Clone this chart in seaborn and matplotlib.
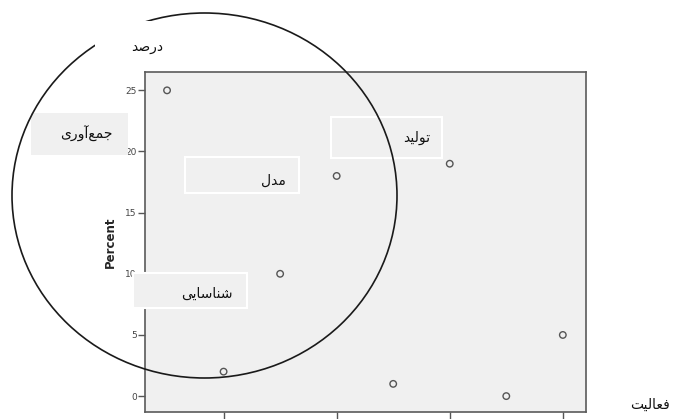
import matplotlib
matplotlib.use("Agg")
import matplotlib.pyplot as plt
from matplotlib.patches import Rectangle, Ellipse
import pandas as pd
import seaborn as sns

# data
activity = [1, 2, 3, 4, 5, 6, 7, 8]
percent = [25, 2, 10, 18, 1, 19, 0, 5]
y_ticks = [0, 5, 10, 15, 20, 25]
x_ticks = [2, 4, 6, 8]

y_label = "Percent"
x_title = "فعالیت"
top_title = "درصد"
box_labels = ["جمع‌آوری", "مدل", "تولید", "شناسایی"]

W, H = 673, 419

# matplotlib does not shape Arabic script, so join letters by hand
DUAL = {
    "ج": "\uFE9D\uFE9E\uFE9F\uFEA0", "ص": "\uFEB9\uFEBA\uFEBB\uFEBC",
    "م": "\uFEE1\uFEE2\uFEE3\uFEE4", "ع": "\uFEC9\uFECA\uFECB\uFECC",
    "ی": "\uFBFC\uFBFD\uFBFE\uFBFF", "ل": "\uFEDD\uFEDE\uFEDF\uFEE0",
    "ت": "\uFE95\uFE96\uFE97\uFE98", "ش": "\uFEB5\uFEB6\uFEB7\uFEB8",
    "ن": "\uFEE5\uFEE6\uFEE7\uFEE8", "س": "\uFEB1\uFEB2\uFEB3\uFEB4",
    "ف": "\uFED1\uFED2\uFED3\uFED4",
}
RIGHT = {
    "د": "\uFEA9\uFEAA", "ر": "\uFEAD\uFEAE", "آ": "\uFE81\uFE82",
    "و": "\uFEED\uFEEE", "ا": "\uFE8D\uFE8E",
}


def shape(word):
    out = []
    for i, ch in enumerate(word):
        prev = word[i - 1] if i > 0 else ""
        nxt = word[i + 1] if i < len(word) - 1 else ""
        if ch in DUAL:
            jp = prev in DUAL
            jn = nxt in DUAL or nxt in RIGHT
            forms = DUAL[ch]
            if jp and jn:
                out.append(forms[3])
            elif jp:
                out.append(forms[1])
            elif jn:
                out.append(forms[2])
            else:
                out.append(forms[0])
        elif ch in RIGHT:
            out.append(RIGHT[ch][1] if prev in DUAL else RIGHT[ch][0])
        elif ch == "\u200c":
            continue
        else:
            out.append(ch)
    return "".join(reversed(out))


def fx(x):
    return x / W


def fy(y):
    return 1 - y / H


df = pd.DataFrame({"activity": activity, "percent": percent})

sns.set_style("white")
plt.rcParams["font.family"] = ["DejaVu Sans"]

fig = plt.figure(figsize=(W / 100, H / 100), dpi=100)
ax = fig.add_axes([fx(145), fy(412), (586 - 145) / W, (412 - 72) / H])
ax.set_facecolor("#f0f0f0")

sns.scatterplot(data=df, x="activity", y="percent", ax=ax, s=22,
                facecolor="none", edgecolor="#555555", linewidth=1.0)

ax.set_xlim(0.61, 8.41)
ax.set_ylim(-1.3, 26.5)
ax.set_xticks(x_ticks)
ax.set_xticklabels([])
ax.set_yticks(y_ticks)
ax.tick_params(axis="y", length=5, width=1, color="#555555", labelsize=6.5,
               labelcolor="#444444", pad=1, left=True)
ax.tick_params(axis="x", length=8, width=1, color="#555555", bottom=True)
for sp in ax.spines.values():
    sp.set_color("#5a5a5a")
    sp.set_linewidth(1.2)
ax.set_xlabel("")
ax.set_ylabel(y_label, fontsize=8.5, fontweight="bold", labelpad=6)

# label boxes: (x0, y0, x1, y1, text right x, text y, white edge)
boxes = [
    (31, 113, 128, 155, 113, 134, False),
    (185, 157, 299, 193, 286, 181, True),
    (331, 117, 442, 158, 430, 138, True),
    (133, 273, 247, 308, 233, 294, True),
]
for (x0, y0, x1, y1, tx, ty, edge), lab in zip(boxes, box_labels):
    fig.add_artist(Rectangle((fx(x0), fy(y1)), (x1 - x0) / W, (y1 - y0) / H,
                             transform=fig.transFigure, facecolor="#f0f0f0",
                             edgecolor="white" if edge else "none",
                             linewidth=1.5, zorder=3))
    fig.text(fx(tx), fy(ty), shape(lab), ha="right", va="center",
             fontsize=10, color="#111111", zorder=4)

fig.add_artist(Ellipse((fx(204.5), fy(195.5)), 385 / W, 365 / H,
                       transform=fig.transFigure, fill=False,
                       edgecolor="#1a1a1a", linewidth=1.2, zorder=5))

fig.add_artist(Rectangle((fx(95), fy(68)), 75 / W, 47 / H,
                         transform=fig.transFigure, facecolor="white",
                         edgecolor="none", zorder=6))
fig.text(fx(163), fy(47), shape(top_title), ha="right", va="center",
         fontsize=10, color="#111111", zorder=7)
fig.text(fx(670), fy(405), shape(x_title), ha="right", va="center",
         fontsize=10, color="#111111", zorder=7)

fig.savefig("out.png", dpi=100)
